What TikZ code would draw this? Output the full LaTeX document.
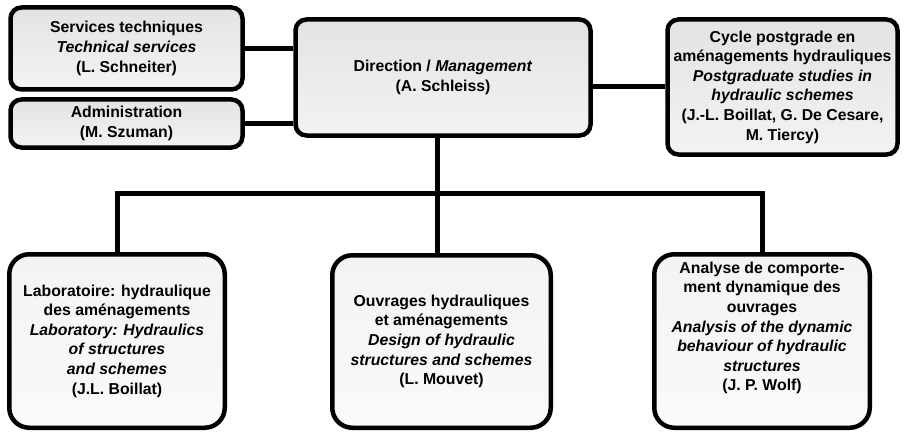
\documentclass[tikz,border=0pt]{standalone}
\usepackage{fontspec}
\setmainfont{Liberation Sans}
\usetikzlibrary{calc}
\definecolor{boxtop}{HTML}{E3E3E3}
\definecolor{boxbottom}{HTML}{F3F3F3}
\definecolor{grouptop}{HTML}{F3F3F3}
\definecolor{groupbottom}{HTML}{FAFAFA}

\begin{document}
\begin{tikzpicture}[x=1pt,y=-1pt,
        unitbox/.style={draw, line width=4.5pt, rounded corners=11pt, align=center, inner sep=0pt,
            font=\fontsize{15.8}{19.6}\selectfont\bfseries, top color=boxtop, bottom color=boxbottom},
        groupbox/.style={unitbox, rounded corners=20pt, top color=grouptop, bottom color=groupbottom},
        link/.style={line width=5pt}]
    \useasboundingbox (0,0) rectangle (904,433);
    % Top row
    \node[unitbox, minimum width=232pt, minimum height=82pt] (serv) at (126.5,48.5)
        {Services techniques\\ \textit{Technical services}\\ (L. Schneiter)};
    \node[unitbox, minimum width=232pt, minimum height=48pt] (admin) at (126.5,123.5)
        {Administration\\ (M. Szuman)};
    \node[unitbox, minimum width=295pt, minimum height=116pt] (dir) at (443,77.5)
        {Direction / \textit{Management}\\ (A. Schleiss)};
    \node[unitbox, minimum width=230pt, minimum height=135pt] (cyc) at (782.5,87)
        {Cycle postgrade en\\ aménagements hydrauliques\\ \textit{Postgraduate studies in}\\
         \textit{hydraulic schemes}\\ (J.-L. Boillat, G. De Cesare,\\ M. Tiercy)};
    % Bottom row
    \node[groupbox, minimum width=215.5pt, minimum height=173.5pt] (lab) at (117,341)
        {Laboratoire: hydraulique\\ des aménagements\\ \textit{Laboratory: Hydraulics}\\
         \textit{of structures}\\ \textit{and schemes}\\ (J.L. Boillat)};
    \node[groupbox, minimum width=218.5pt, minimum height=172.5pt] (mid) at (441.5,341.5)
        {Ouvrages hydrauliques\\ et aménagements\\ \textit{Design of hydraulic}\\
         \textit{structures and schemes}\\ (L. Mouvet)};
    \node[groupbox, minimum width=215.5pt, minimum height=173.5pt] (ana) at (762,341) {};
    \node[align=center, inner sep=0pt, font=\fontsize{15.8}{19.6}\selectfont\bfseries] (anatext)
        at ([yshift=13pt]ana.center)
        {Analyse de comporte-\\ ment dynamique des\\ ouvrages\\ \textit{Analysis of the dynamic}\\
         \textit{behaviour of hydraulic}\\ \textit{structures}\\ (J. P. Wolf)};
    % Connectors
    \coordinate (bus) at (437,193);
    \draw[link] (serv.east) -- (serv.east -| dir.west);
    \draw[link] (admin.east) -- (admin.east -| dir.west);
    \draw[link] (dir.east |- cyc.west) -- (cyc.west);
    \draw[link] (bus |- dir.south) -- (bus |- mid.north);
    \draw[link] (lab.north) |- (bus) -| (ana.north);
\end{tikzpicture}
\end{document}
